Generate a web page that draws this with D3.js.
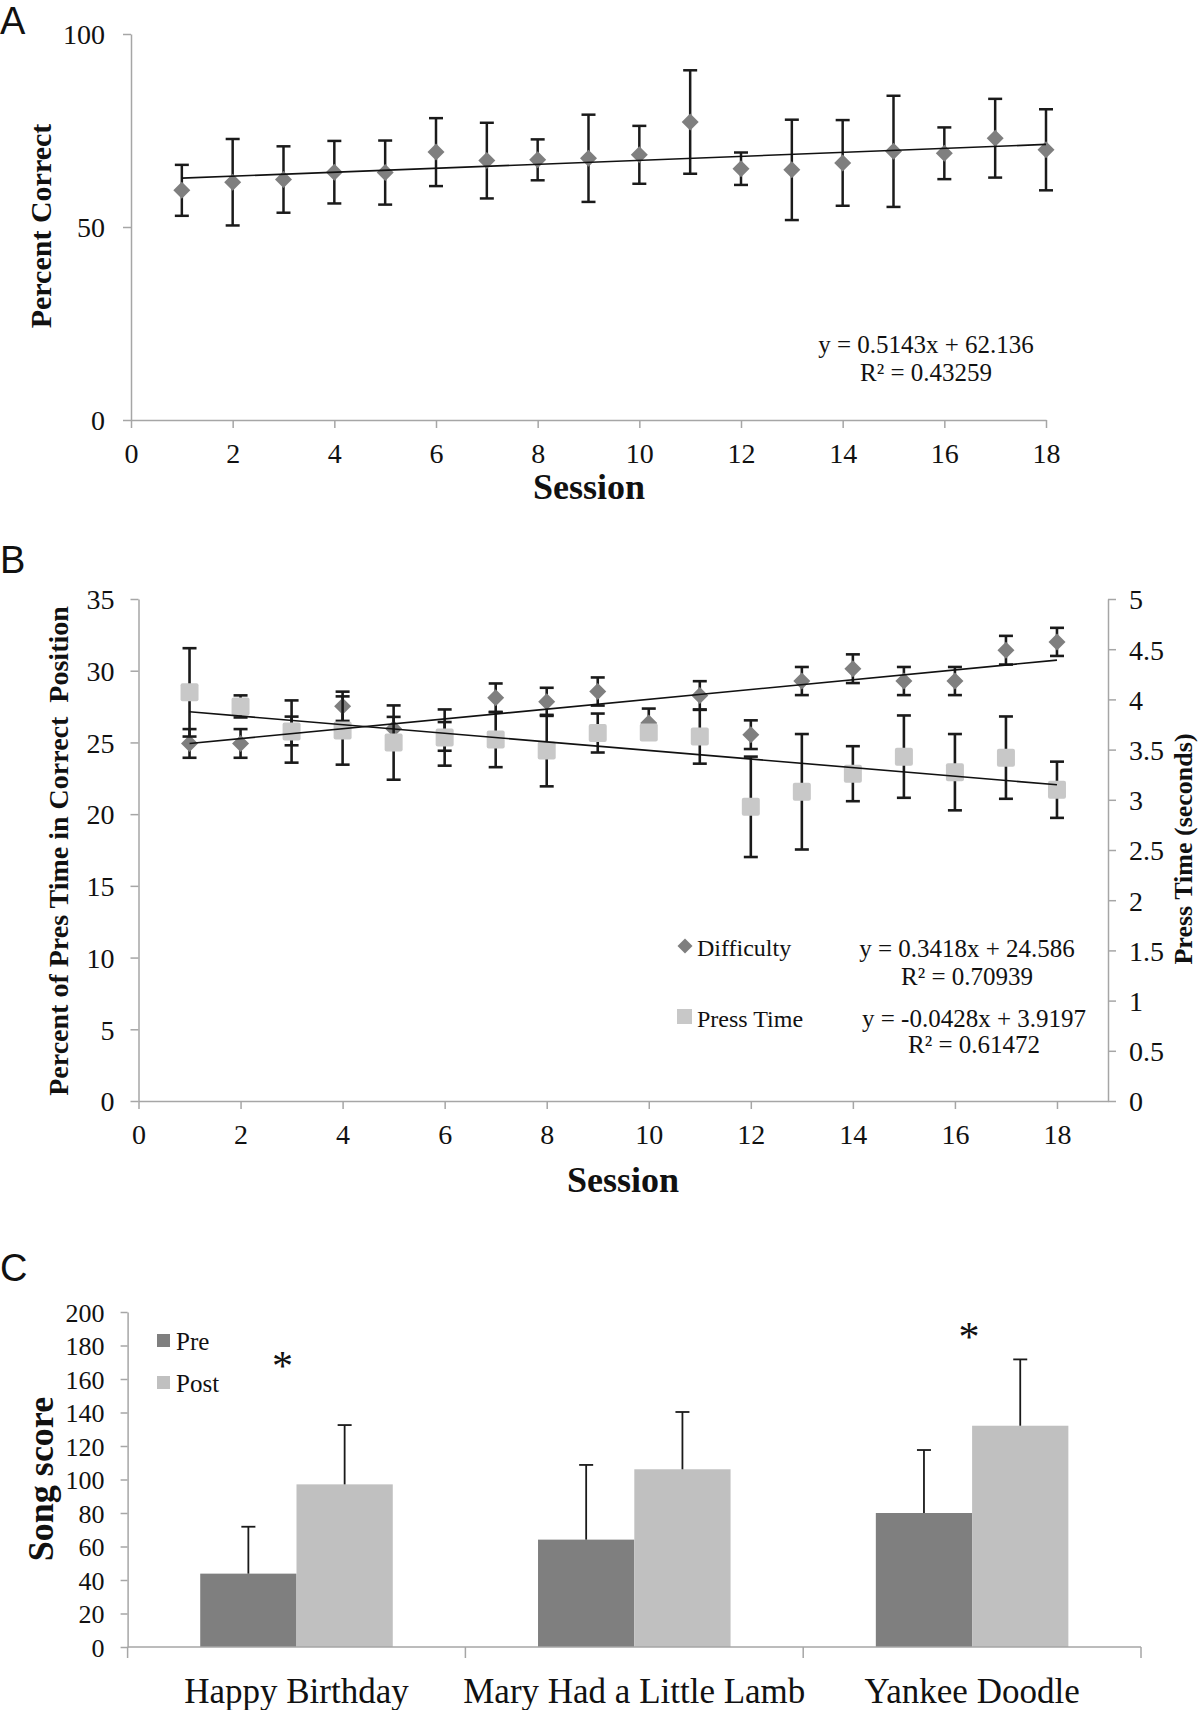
<!DOCTYPE html>
<html><head><meta charset="utf-8">
<script src="https://cdn.jsdelivr.net/npm/d3@7"></script>
<style>
body{margin:0;background:#fff;}
svg{display:block;}
</style></head><body>
<svg id="chart" width="1200" height="1710"></svg>
<script>
// ---------- DATA ----------
const sessions = [1,2,3,4,5,6,7,8,9,10,11,12,13,14,15,16,17,18];
const sessionTicks = [0,2,4,6,8,10,12,14,16,18];

// Panel A
const percentCorrect    = [59.5,61.6,62.3,64.2,64.1,69.4,67.2,67.4,67.8,68.7,77.2,65.1,64.8,66.6,69.6,69.1,73.0,70.0];
const percentCorrectErr = [6.6,11.2,8.6,8.1,8.3,8.8,9.8,5.3,11.3,7.5,13.4,4.2,13.0,11.1,14.4,6.7,10.2,10.5];
const trendA = [0.5143, 62.136];           // slope, intercept
const eqA = ["y = 0.5143x + 62.136", "R² = 0.43259"];
const yTicksA = [0,50,100];

// Panel B
const difficulty    = [24.93,24.93,25.8,27.52,25.96,25.42,28.11,27.83,28.55,26.36,28.27,25.54,29.28,30.14,29.28,29.28,31.43,32.01];
const difficultyErr = [1.0,1.0,1.0,1.02,0.82,1.0,1.0,0.98,0.98,1.0,1.0,1.0,0.98,1.0,0.98,0.98,1.0,0.98];
const pressTime     = [4.07,3.93,3.68,3.69,3.57,3.62,3.60,3.49,3.665,3.67,3.63,2.93,3.08,3.26,3.43,3.275,3.42,3.10];
const pressTimeErr  = [0.44,0.11,0.31,0.34,0.37,0.28,0.275,0.356,0.194,0.05,0.27,0.5,0.575,0.274,0.41,0.38,0.41,0.28];
const trendDifficulty = [0.3418, 24.586];
const trendPressTime  = [-0.0428, 3.9197];
const eqDifficulty = ["y = 0.3418x + 24.586", "R² = 0.70939"];
const eqPressTime  = ["y = -0.0428x + 3.9197", "R² = 0.61472"];
const yTicksBLeft  = [0,5,10,15,20,25,30,35];
const yTicksBRight = [0,0.5,1,1.5,2,2.5,3,3.5,4,4.5,5];
const seriesB = ["Difficulty","Press Time"];

// Panel C
const songs = ["Happy Birthday","Mary Had a Little Lamb","Yankee Doodle"];
const phases = ["Pre","Post"];
const preScores  = [43.8,64.1,80.0];
const preErr     = [28.0,44.6,37.6];
const postScores = [97.1,106.1,132.1];
const postErr    = [35.4,34.2,39.6];
const starLevel  = [171,null,188];
const yTicksC = [0,20,40,60,80,100,120,140,160,180,200];

// ---------- STYLE ----------
const SERIF = "'Liberation Serif','Times New Roman',serif";
const SANS = "'Liberation Sans',Arial,sans-serif";
const AXIS = '#a6a6a6';
const INK = '#1a1a1a';
const DARK = '#7f7f7f';
const LIGHT = '#c8c8c8';
const BAR_PRE = '#7f7f7f', BAR_POST = '#c0c0c0';
const svg = d3.select('#chart');
const diamond = r => `M0,${-r}L${r},0L0,${r}L${-r},0Z`;
const plainFmt = d => String(d);

function styleAxis(g, fs){
  g.attr('font-family', SERIF).attr('font-size', fs);
  g.select('.domain').attr('stroke', AXIS).attr('stroke-width', 1.5);
  g.selectAll('.tick line').attr('stroke', AXIS).attr('stroke-width', 1.5);
  g.selectAll('.tick text').attr('fill', '#111');
}
function text(x, y, s, fs, opts={}){
  const t = svg.append('text').attr('x', x).attr('y', y).text(s)
    .attr('font-family', opts.family || SERIF).attr('font-size', fs)
    .attr('font-weight', opts.bold ? 'bold' : 'normal')
    .attr('text-anchor', opts.anchor || 'start').attr('fill', '#111');
  if (opts.dy) t.attr('dy', opts.dy);
  return t;
}
function vtext(cx, cy, s, fs){
  svg.append('text').attr('transform', `translate(${cx},${cy}) rotate(-90)`)
    .attr('text-anchor','middle').attr('dy','0.35em')
    .attr('font-family', SERIF).attr('font-size', fs).attr('font-weight','bold')
    .attr('fill','#111').text(s);
}
function errBars(g, xs, vals, errs, xS, yS, w, cap){
  const d = xs.map((x,i)=>({x, v: vals[i], e: errs[i]}));
  const sel = g.selectAll(null).data(d).enter().append('g')
    .attr('stroke', INK).attr('stroke-width', w).attr('fill','none');
  sel.append('line').attr('x1', p=>xS(p.x)).attr('x2', p=>xS(p.x))
    .attr('y1', p=>yS(p.v - p.e)).attr('y2', p=>yS(p.v + p.e));
  sel.append('line').attr('x1', p=>xS(p.x)-cap).attr('x2', p=>xS(p.x)+cap)
    .attr('y1', p=>yS(p.v + p.e)).attr('y2', p=>yS(p.v + p.e));
  sel.append('line').attr('x1', p=>xS(p.x)-cap).attr('x2', p=>xS(p.x)+cap)
    .attr('y1', p=>yS(p.v - p.e)).attr('y2', p=>yS(p.v - p.e));
}
function trend(g, coef, xS, yS){
  const pts = [sessions[0], sessions[sessions.length-1]].map(x=>[x, coef[0]*x + coef[1]]);
  g.append('path').attr('d', d3.line().x(p=>xS(p[0])).y(p=>yS(p[1]))(pts))
    .attr('stroke', '#111').attr('stroke-width', 1.6).attr('fill','none');
}

// ---------- PANEL A ----------
text(0, 34, 'A', 38, {family: SANS});
const xA = d3.scaleLinear().domain([0,18]).range([131,1046]);
const yA = d3.scaleLinear().domain([0,100]).range([420,34]);
const gA = svg.append('g');
const axA = gA.append('g').attr('transform', `translate(0,${yA(0)})`)
  .call(d3.axisBottom(xA).tickValues(sessionTicks).tickFormat(plainFmt).tickSize(8).tickSizeOuter(0));
styleAxis(axA, 28);
axA.selectAll('.tick text').attr('y', 33).attr('dy','0.35em');
const ayA = gA.append('g').attr('transform', `translate(${xA(0)},0)`)
  .call(d3.axisLeft(yA).tickValues(yTicksA).tickFormat(plainFmt).tickSize(8).tickSizeOuter(0));
styleAxis(ayA, 28);
ayA.selectAll('.tick text').attr('x', -26).attr('dy','0.35em');
errBars(gA, sessions, percentCorrect, percentCorrectErr, xA, yA, 2.5, 7);
gA.selectAll(null).data(sessions).enter().append('path')
  .attr('d', diamond(8.5)).attr('fill', DARK)
  .attr('transform', (s,i)=>`translate(${xA(s)},${yA(percentCorrect[i])})`);
trend(gA, trendA, xA, yA);
text(926, 353, eqA[0], 25, {anchor:'middle'});
text(926, 381, eqA[1], 25, {anchor:'middle'});
text(589, 499, 'Session', 36, {anchor:'middle', bold:true});
vtext(40, 226, 'Percent Correct', 30);

// ---------- PANEL B ----------
text(0, 573, 'B', 38, {family: SANS});
const xB = d3.scaleLinear().domain([0,19]).range([138.5,1108]);
const yBL = d3.scaleLinear().domain([0,35]).range([1101,599]);
const yBR = d3.scaleLinear().domain([0,5]).range([1101,599]);
const gB = svg.append('g');
const axB = gB.append('g').attr('transform', `translate(0,${yBL(0)})`)
  .call(d3.axisBottom(xB).tickValues(sessionTicks).tickFormat(plainFmt).tickSize(8).tickSizeOuter(0));
styleAxis(axB, 28);
axB.selectAll('.tick text').attr('y', 33).attr('dy','0.35em');
const ayBL = gB.append('g').attr('transform', `translate(${xB(0)},0)`)
  .call(d3.axisLeft(yBL).tickValues(yTicksBLeft).tickFormat(plainFmt).tickSize(8).tickSizeOuter(0));
styleAxis(ayBL, 28);
ayBL.selectAll('.tick text').attr('x', -24).attr('dy','0.35em');
const ayBR = gB.append('g').attr('transform', `translate(${xB(19)},0)`)
  .call(d3.axisRight(yBR).tickValues(yTicksBRight).tickFormat(plainFmt).tickSize(8).tickSizeOuter(0));
styleAxis(ayBR, 28);
ayBR.selectAll('.tick text').attr('x', 21).attr('dy','0.35em');

errBars(gB, sessions, difficulty, difficultyErr, xB, yBL, 2.6, 7);
gB.selectAll(null).data(sessions).enter().append('path')
  .attr('d', diamond(8.5)).attr('fill', DARK)
  .attr('transform', (s,i)=>`translate(${xB(s)},${yBL(difficulty[i])})`);
errBars(gB, sessions, pressTime, pressTimeErr, xB, yBR, 2.6, 7);
gB.selectAll(null).data(sessions).enter().append('rect')
  .attr('x', s=>xB(s)-9).attr('y', (s,i)=>yBR(pressTime[i])-9)
  .attr('width', 18).attr('height', 18).attr('rx', 2).attr('fill', LIGHT);
trend(gB, trendDifficulty, xB, yBL);
trend(gB, trendPressTime, xB, yBR);

// legend + equations
svg.append('path').attr('d', diamond(7.5)).attr('fill', DARK).attr('transform','translate(685,946)');
text(697, 956, seriesB[0], 24);
svg.append('rect').attr('x',677).attr('y',1009).attr('width',15).attr('height',15).attr('fill', LIGHT);
text(697, 1027, seriesB[1], 24);
text(967, 957, eqDifficulty[0], 25, {anchor:'middle'});
text(967, 985, eqDifficulty[1], 25, {anchor:'middle'});
text(974, 1027, eqPressTime[0], 25, {anchor:'middle'});
text(974, 1053, eqPressTime[1], 25, {anchor:'middle'});

text(623, 1192, 'Session', 36, {anchor:'middle', bold:true});
vtext(58, 851, 'Percent of Pres Time in Correct\u00a0\u00a0Position', 28);
vtext(1183, 849, 'Press Time (seconds)', 26);

// ---------- PANEL C ----------
text(0, 1281, 'C', 38, {family: SANS});
const xC = d3.scaleBand().domain(songs).range([127.6,1141]);
const bw = xC.bandwidth();
const xPh = d3.scaleBand().domain(phases).range([bw*0.215, bw*0.785]);
const yC = d3.scaleLinear().domain([0,200]).range([1647,1312]);
const gC = svg.append('g');
const ayC = gC.append('g').attr('transform', `translate(${xC.range()[0]},0)`)
  .call(d3.axisLeft(yC).tickValues(yTicksC).tickFormat(plainFmt).tickSize(7).tickSizeOuter(0));
styleAxis(ayC, 26);
ayC.selectAll('.tick text').attr('x', -23).attr('dy','0.35em');

const barData = [];
songs.forEach((s,i)=>{
  barData.push({song:s, phase:'Pre', v:preScores[i], e:preErr[i]});
  barData.push({song:s, phase:'Post', v:postScores[i], e:postErr[i]});
});
gC.selectAll(null).data(barData).enter().append('rect')
  .attr('x', d=>xC(d.song)+xPh(d.phase)).attr('width', xPh.bandwidth())
  .attr('y', d=>yC(d.v)).attr('height', d=>yC(0)-yC(d.v))
  .attr('fill', d=>d.phase==='Pre'?BAR_PRE:BAR_POST);
const eb = gC.selectAll(null).data(barData).enter().append('g')
  .attr('stroke', INK).attr('stroke-width', 1.8);
eb.append('line').attr('x1', d=>xC(d.song)+xPh(d.phase)+xPh.bandwidth()/2)
  .attr('x2', d=>xC(d.song)+xPh(d.phase)+xPh.bandwidth()/2)
  .attr('y1', d=>yC(d.v)).attr('y2', d=>yC(d.v+d.e));
eb.append('line').attr('x1', d=>xC(d.song)+xPh(d.phase)+xPh.bandwidth()/2-7)
  .attr('x2', d=>xC(d.song)+xPh(d.phase)+xPh.bandwidth()/2+7)
  .attr('y1', d=>yC(d.v+d.e)).attr('y2', d=>yC(d.v+d.e));

// x axis (category boundaries)
const bounds = songs.map(s=>xC(s)).concat([xC.range()[1]]);
gC.append('line').attr('x1', xC.range()[0]).attr('x2', xC.range()[1])
  .attr('y1', yC(0)).attr('y2', yC(0)).attr('stroke', AXIS).attr('stroke-width', 1.5);
gC.selectAll(null).data(bounds).enter().append('line')
  .attr('x1', d=>d).attr('x2', d=>d).attr('y1', yC(0)).attr('y2', yC(0)+11)
  .attr('stroke', AXIS).attr('stroke-width', 1.5);
gC.selectAll(null).data(songs).enter().append('text')
  .attr('x', s=>xC(s)+bw/2).attr('y', yC(0)+44).attr('dy','0.35em')
  .attr('text-anchor','middle').attr('font-family', SERIF).attr('font-size', 35)
  .attr('fill','#111').text(s=>s);
// significance stars
gC.selectAll(null).data(songs.filter((s,i)=>starLevel[i]!==null)).enter().append('text')
  .attr('x', s=>xC(s)+bw/2 - (s===songs[0]?14:3))
  .attr('y', s=>yC(starLevel[songs.indexOf(s)])+19)
  .attr('text-anchor','middle').attr('font-family', SERIF).attr('font-size', 42)
  .attr('fill','#111').text('*');
// legend
svg.append('rect').attr('x',157).attr('y',1334).attr('width',13).attr('height',13).attr('fill', BAR_PRE);
text(176, 1341, phases[0], 25, {dy:'0.35em'});
svg.append('rect').attr('x',157).attr('y',1376).attr('width',13).attr('height',13).attr('fill', BAR_POST);
text(176, 1383, phases[1], 25, {dy:'0.35em'});
vtext(40, 1479, 'Song score', 36);
</script>
</body></html>
